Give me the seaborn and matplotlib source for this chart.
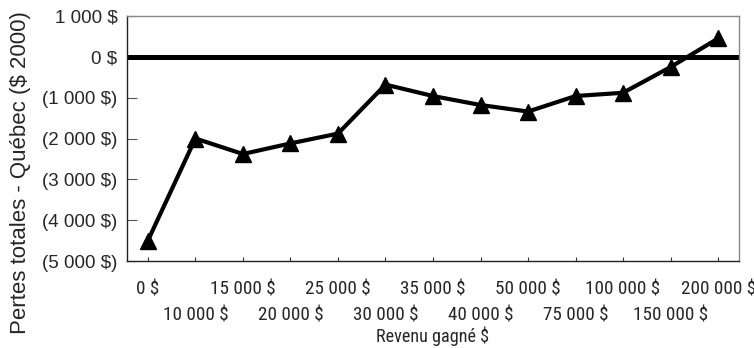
import matplotlib
matplotlib.use("Agg")
import matplotlib.pyplot as plt
import seaborn as sns
import pandas as pd
from matplotlib import font_manager

# Income brackets and total losses (2000 dollars)
revenus = ["0 $", "10 000 $", "15 000 $", "20 000 $", "25 000 $", "30 000 $",
           "35 000 $", "40 000 $", "50 000 $", "75 000 $", "100 000 $",
           "150 000 $", "200 000 $"]
pertes = [-4500, -2000, -2380, -2120, -1880, -680, -960, -1180, -1340,
          -960, -880, -250, 450]
y_ticks = [1000, 0, -1000, -2000, -3000, -4000, -5000]
y_labels = ["1 000 $", "0 $", "(1 000 $)", "(2 000 $)", "(3 000 $)",
            "(4 000 $)", "(5 000 $)"]

sns.set_theme(style="white")
available = {f.name for f in font_manager.fontManager.ttflist}
base = "Liberation Sans"
narrow, x_size, xl_size = base, 11, 12
for name, fx, fl in [("Liberation Sans Narrow", 15, 14.2),
                     ("Arial Narrow", 15, 14.2),
                     ("Roboto Condensed", 13.8, 13.1),
                     ("PT Sans Narrow", 15, 14.2),
                     ("Archivo Narrow", 14.4, 13.6)]:
    if name in available:
        narrow, x_size, xl_size = name, fx, fl
        break
plt.rcParams["font.family"] = [base, "DejaVu Sans"]

df = pd.DataFrame({"pos": range(len(revenus)), "perte": pertes})

fig = plt.figure(figsize=(7.54, 3.48), dpi=100)
ax = fig.add_axes([127 / 754, 1 - 261 / 348, (739 - 127) / 754, (261 - 16) / 348])

# Break-even reference line
ax.axhline(0, color="black", lw=3.6, zorder=2)
sns.lineplot(data=df, x="pos", y="perte", ax=ax, color="black", lw=3.0,
             marker="^", markersize=11.5, markeredgecolor="black",
             markeredgewidth=1, zorder=3)

ax.set_xlim(-0.44, 12.44)
ax.set_ylim(-5000, 1000)
ax.set_yticks(y_ticks)
ax.set_yticklabels(y_labels, fontsize=13.5)

# Staggered category labels: even brackets on the first row, odd on the second
even = list(range(0, len(revenus), 2))
odd = list(range(1, len(revenus), 2))
ax.set_xticks(even)
ax.set_xticklabels([revenus[i] for i in even], fontsize=x_size, family=[narrow, "DejaVu Sans"])
ax.set_xticks(odd, minor=True)
ax.set_xticklabels([revenus[i] for i in odd], minor=True, fontsize=x_size,
                   family=[narrow, "DejaVu Sans"])

ax.tick_params(axis="y", direction="in", length=7, width=0.8, color="#555555",
               pad=7, left=True)
ax.tick_params(axis="x", which="both", direction="in", length=3, width=0.8,
               color="#333333", bottom=True)
ax.tick_params(axis="x", which="major", pad=14)
ax.tick_params(axis="x", which="minor", pad=33)

ax.set_ylabel("Pertes totales - Québec ($ 2000)", fontsize=16)
ax.yaxis.set_label_coords(-0.1748, 0.359)
ax.yaxis.label.set_verticalalignment("center")
ax.set_xlabel("Revenu gagné $", fontsize=xl_size, family=[narrow, "DejaVu Sans"], labelpad=1.5)

for side in ["left", "bottom"]:
    ax.spines[side].set_color("#222222")
    ax.spines[side].set_linewidth(1.0)
for side in ["top", "right"]:
    ax.spines[side].set_color("#888888")
    ax.spines[side].set_linewidth(1.0)
    ax.spines[side].set_visible(True)

fig.savefig("out.png", dpi=100)
